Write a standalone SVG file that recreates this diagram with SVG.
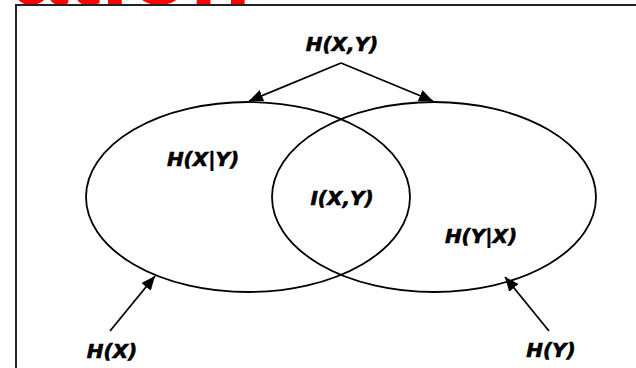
<svg xmlns="http://www.w3.org/2000/svg" width="636" height="368" viewBox="0 0 636 368">
  <style>
    .lbl { font-family: "DejaVu Sans", Verdana, sans-serif; font-weight: bold; font-style: italic; font-size: 20px; fill: #000; stroke: #000; stroke-width: 0.6; text-anchor: middle; }
    .title { font-family: "Liberation Sans", Arial, sans-serif; font-weight: bold; font-size: 100px; fill: #ff0000; }
    .ell { fill: none; stroke: #000; stroke-width: 1.8; }
    .conn { fill: none; stroke: #000; stroke-width: 1.8; marker-end: url(#arrow); }
  </style>
  <defs>
    <marker id="arrow" viewBox="0 0 14 12" refX="14" refY="6" markerWidth="14" markerHeight="12" markerUnits="userSpaceOnUse" orient="auto">
      <path d="M0,0 L14,6 L0,12 z" fill="#000"/>
    </marker>
  </defs>
  <rect width="636" height="368" fill="#fff"/>
  <text class="title" x="12" y="4">ation</text>
  <path d="M16,372 V5 H640" fill="none" stroke="#222" stroke-width="2"/>
  <g id="node-hx">
    <ellipse class="ell" cx="248" cy="197" rx="162" ry="95"/>
  </g>
  <g id="node-hy">
    <ellipse class="ell" cx="434" cy="197" rx="162" ry="95"/>
  </g>
  <g id="label-hxy"><text class="lbl" x="342" y="51">H(X,Y)</text></g>
  <g id="label-hx-given-y"><text class="lbl" x="203" y="166">H(X|Y)</text></g>
  <g id="label-ixy"><text class="lbl" x="342" y="205">I(X,Y)</text></g>
  <g id="label-hy-given-x"><text class="lbl" x="481" y="243">H(Y|X)</text></g>
  <g id="label-hx"><text class="lbl" x="112" y="358">H(X)</text></g>
  <g id="label-hy"><text class="lbl" x="551" y="357">H(Y)</text></g>
  <g id="connectors">
    <path class="conn" d="M341,63 L249,101"/>
    <path class="conn" d="M341,63 L433,101"/>
    <path class="conn" d="M110,331 L155,276"/>
    <path class="conn" d="M549,331 L505,277"/>
  </g>
</svg>
